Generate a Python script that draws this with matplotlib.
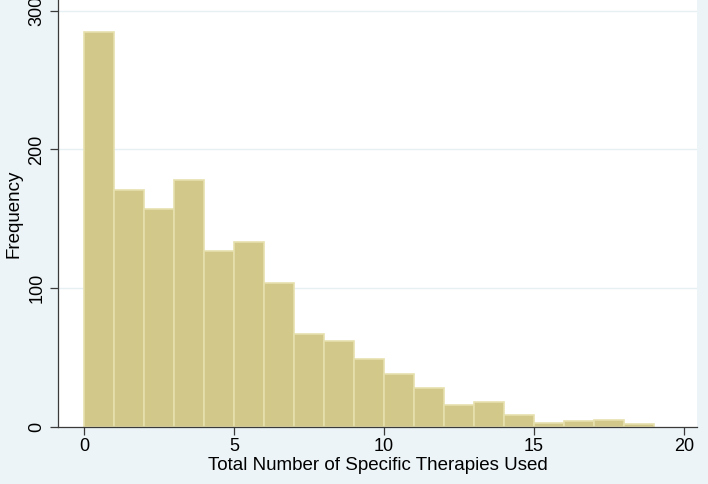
"""Histogram of total number of specific therapies used (Stata s2color look)."""

import matplotlib

matplotlib.use("Agg")
import matplotlib.pyplot as plt  # noqa: E402

# bin left edges (width 1) and counts
BIN_EDGES = list(range(0, 19))
COUNTS = [285, 171, 157, 178, 127, 133, 104, 67, 62, 49, 38, 28, 16, 18, 9, 3, 4, 5, 2]
X_TICKS = [0, 5, 10, 15, 20]
Y_TICKS = [0, 100, 200, 300]
X_LABEL = "Total Number of Specific Therapies Used"
Y_LABEL = "Frequency"

OUTER_BG = "#ECF4F7"
GRID_COLOR = "#E6EFF2"
BAR_FACE = "#D1C889"
BAR_EDGE = "#E6E0AE"
AXIS_COLOR = "#3A3A3A"

plt.rcParams["font.family"] = ["Liberation Sans", "DejaVu Sans"]

fig = plt.figure(figsize=(7.08, 4.84), dpi=100, facecolor=OUTER_BG)
ax = fig.add_axes([58 / 708, 57 / 484, (697 - 58) / 708, 427 / 484])
ax.set_facecolor("white")

ax.bar(
    BIN_EDGES,
    COUNTS,
    width=1.0,
    align="edge",
    color=BAR_FACE,
    edgecolor=BAR_EDGE,
    linewidth=1.2,
    zorder=2,
)

for y in Y_TICKS[1:]:
    ax.axhline(y, color=GRID_COLOR, linewidth=1.0, zorder=1)

ax.set_xlim(-0.87, 20.43)
ax.set_ylim(0, 307.7)
ax.set_xticks(X_TICKS)
ax.set_yticks(Y_TICKS)
ax.set_yticklabels([str(v) for v in Y_TICKS], rotation=90, va="center")

for side in ("top", "right"):
    ax.spines[side].set_visible(False)
for side in ("left", "bottom"):
    ax.spines[side].set_color(AXIS_COLOR)
    ax.spines[side].set_linewidth(0.9)

ax.tick_params(axis="both", direction="out", length=6, width=0.9, color=AXIS_COLOR,
               labelsize=13, labelcolor="black")
ax.tick_params(axis="x", pad=2)
ax.tick_params(axis="y", pad=3)

ax.set_xlabel(X_LABEL, fontsize=13.5, labelpad=1)
ax.set_ylabel(Y_LABEL, fontsize=13.5, labelpad=4)

fig.savefig("out.png", dpi=100, facecolor=OUTER_BG)
